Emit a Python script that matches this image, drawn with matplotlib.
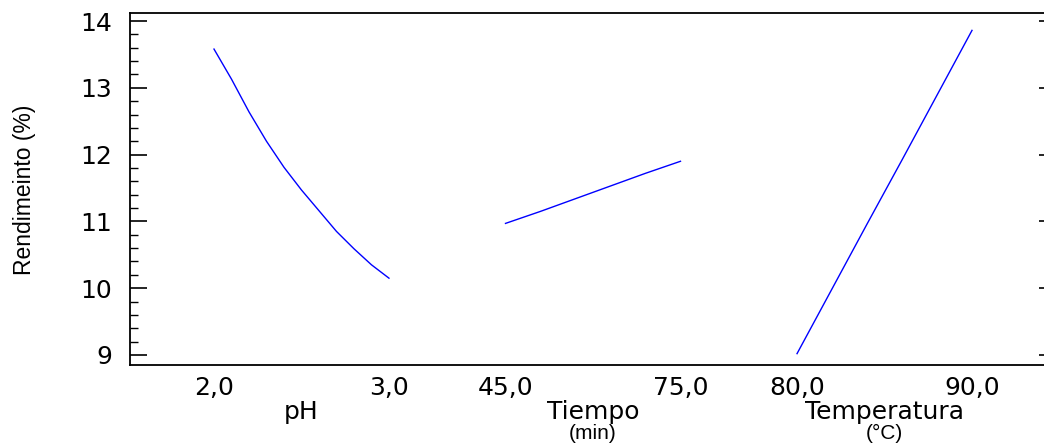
import numpy as np
import matplotlib.pyplot as plt
from matplotlib.ticker import MultipleLocator
import matplotlib.transforms as mtransforms

# niveles de cada factor (codificados 0..1 dentro de cada segmento)
factores = ['pH', 'Tiempo', 'Temperatura']
unidades = ['', '(min)', '(°C)']
etiquetas = [['2,0', '3,0'], ['45,0', '75,0'], ['80,0', '90,0']]
niveles_ph = [0.0, 0.1, 0.2, 0.3, 0.4, 0.5, 0.6, 0.7, 0.8, 0.9, 1.0]
rend_ph = [13.58, 13.13, 12.64, 12.20, 11.81, 11.47, 11.16, 10.85, 10.59, 10.35, 10.15]
niveles = [0.0, 0.2, 0.4, 0.6, 0.8, 1.0]
rend_tiempo = [10.97, 11.15, 11.34, 11.53, 11.72, 11.90]
rend_temp = [9.02, 9.99, 10.96, 11.92, 12.89, 13.86]
series = [(niveles_ph, rend_ph), (niveles, rend_tiempo), (niveles, rend_temp)]

paso = 1.666  # separacion entre segmentos

plt.rcParams['font.family'] = ['DejaVu Sans']
fig = plt.figure(figsize=(10.44, 4.44), dpi=100)
ax = fig.add_axes([130 / 1044, 1 - 365 / 444, (1056 - 130) / 1044, (365 - 13) / 444])

for i, (xs, ys) in enumerate(series):
    ax.plot(np.array(xs) + i * paso, ys, color='#0000ff', lw=1.0)

ax.set_xlim(-0.48, 2 * paso + 1 + 0.48)
ax.set_ylim(8.85, 14.12)

ax.yaxis.set_major_locator(MultipleLocator(1))
ax.yaxis.set_minor_locator(MultipleLocator(0.2))
ax.tick_params(axis='y', which='major', direction='in', length=12, width=1.2,
               right=True, labelsize=18, pad=13)
ax.tick_params(axis='y', which='minor', direction='in', length=6, width=1.0, right=True)

pos = []
labs = []
for i in range(3):
    pos += [i * paso, i * paso + 1]
    labs += etiquetas[i]
ax.set_xticks(pos)
ax.set_xticklabels(labs)
ax.tick_params(axis='x', length=0, labelsize=18, pad=8)

for s in ax.spines.values():
    s.set_linewidth(1.3)

trans = mtransforms.blended_transform_factory(ax.transData, fig.transFigure)
for i in range(3):
    xc = i * paso + 0.5
    ax.text(xc, 1 - 419 / 444, factores[i], transform=trans, ha='center', va='baseline',
            fontsize=18)
    if unidades[i]:
        ax.text(xc, 1 - 433 / 444, unidades[i], transform=trans, ha='center', va='center',
                fontsize=15, family=['Liberation Sans', 'DejaVu Sans'])

fig.text(25 / 1044, 1 - 190 / 444, 'Rendimeinto (%)', rotation=90, ha='center', va='center',
         fontsize=16.5, family=['Liberation Sans', 'DejaVu Sans'])

fig.savefig('out.png', dpi=100)
